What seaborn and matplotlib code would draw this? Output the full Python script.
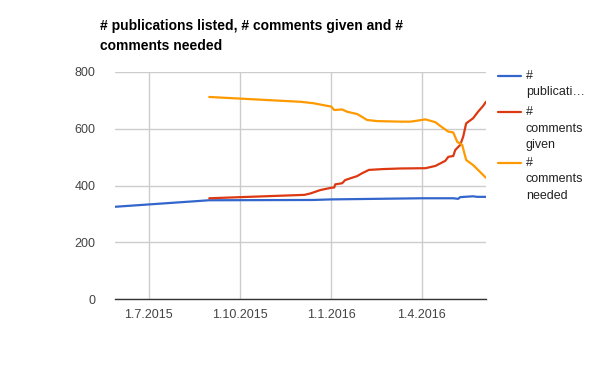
import matplotlib
matplotlib.use("Agg")
import matplotlib.pyplot as plt
import seaborn as sns
import pandas as pd
from matplotlib.lines import Line2D

# ---- data ----
pub_dates = ["2015-05-28", "2015-08-31", "2015-12-14", "2016-01-01", "2016-04-01",
             "2016-05-03", "2016-05-08", "2016-05-10", "2016-05-23", "2016-05-27", "2016-06-05"]
pub_vals = [325, 348, 349, 351, 355, 355, 353, 359, 362, 360, 360]

given_dates = ["2015-08-31", "2015-12-05", "2015-12-11", "2015-12-21", "2016-01-01",
               "2016-01-04", "2016-01-05", "2016-01-12", "2016-01-15", "2016-01-20",
               "2016-01-27", "2016-02-01", "2016-02-08", "2016-02-23", "2016-03-11",
               "2016-04-05", "2016-04-15", "2016-04-25", "2016-04-28", "2016-05-03",
               "2016-05-05", "2016-05-10", "2016-05-13", "2016-05-16", "2016-05-23",
               "2016-05-28", "2016-06-02", "2016-06-05"]
given_vals = [355, 367, 372, 384, 392, 393, 404, 408, 419, 425, 433, 443, 455, 458, 460,
              461, 469, 487, 501, 504, 525, 543, 572, 619, 637, 660, 680, 695]

needed_dates = ["2015-08-31", "2015-12-01", "2015-12-14", "2016-01-01", "2016-01-04",
                "2016-01-12", "2016-01-17", "2016-01-27", "2016-02-01", "2016-02-06",
                "2016-02-16", "2016-03-11", "2016-03-21", "2016-04-05", "2016-04-15",
                "2016-04-21", "2016-04-28", "2016-05-03", "2016-05-07", "2016-05-12",
                "2016-05-16", "2016-05-23", "2016-05-28", "2016-06-05"]
needed_vals = [712, 695, 690, 678, 666, 668, 660, 652, 642, 631, 627, 625, 625, 633, 623,
               607, 590, 587, 554, 543, 490, 472, 455, 427]

series_names = ["# publications listed", "# comments given", "# comments needed"]
legend_lines = [["#", "publicati\u2026"], ["#", "comments", "given"], ["#", "comments", "needed"]]
colors = ["#3366cc", "#dc3912", "#ff9900"]

tick_dates = ["2015-07-01", "2015-10-01", "2016-01-01", "2016-04-01"]
tick_labels = ["1.7.2015", "1.10.2015", "1.1.2016", "1.4.2016"]
y_ticks = [0, 200, 400, 600, 800]

title = "# publications listed, # comments given and #\ncomments needed"

# ---- build frame ----
frames = []
for name, d, v in zip(series_names, [pub_dates, given_dates, needed_dates],
                      [pub_vals, given_vals, needed_vals]):
    frames.append(pd.DataFrame({"date": pd.to_datetime(d), "value": v, "series": name}))
df = pd.concat(frames, ignore_index=True)

sns.set_theme(style="white")
plt.rcParams["font.family"] = ["Liberation Sans", "DejaVu Sans"]

fig = plt.figure(figsize=(6.0, 3.71), dpi=100)
W, H = 600, 371
ax = fig.add_axes([115 / W, (H - 299) / H, 371 / W, 227 / H])

sns.lineplot(data=df, x="date", y="value", hue="series", hue_order=series_names,
             palette=colors, linewidth=1.6, ax=ax, legend=False, estimator=None)

ax.set_xlim(df["date"].min(), df["date"].max())
ax.set_ylim(0, 800)
ax.set_yticks(y_ticks)
ax.set_yticklabels([str(t) for t in y_ticks])
ax.set_xticks(pd.to_datetime(tick_dates))
ax.set_xticklabels(tick_labels)
ax.set_xlabel("")
ax.set_ylabel("")

ax.grid(True, color="#cccccc", linewidth=1.0)
ax.set_axisbelow(True)
for s in ["left", "right", "top"]:
    ax.spines[s].set_visible(False)
ax.spines["bottom"].set_color("#333333")
ax.spines["bottom"].set_linewidth(1.0)
ax.tick_params(axis="both", length=0, labelsize=9, colors="#444444")
ax.tick_params(axis="y", pad=14)
ax.tick_params(axis="x", pad=7)

fig.text(100 / W, 1 - 19 / H, title, fontsize=10, fontweight="bold", color="#000000",
         ha="left", va="top", linespacing=1.5)

# legend
line_y = [76, 112, 163]
for y0, lines, c in zip(line_y, legend_lines, colors):
    fig.lines.append(Line2D([498 / W, 521 / W], [1 - y0 / H, 1 - y0 / H],
                            transform=fig.transFigure, color=c, linewidth=1.6))
    for i, t in enumerate(lines):
        fig.text(526 / W, 1 - (y0 + i * 16.5) / H, t, fontsize=9, color="#222222",
                 ha="left", va="center")

fig.savefig("out.png", dpi=100)
